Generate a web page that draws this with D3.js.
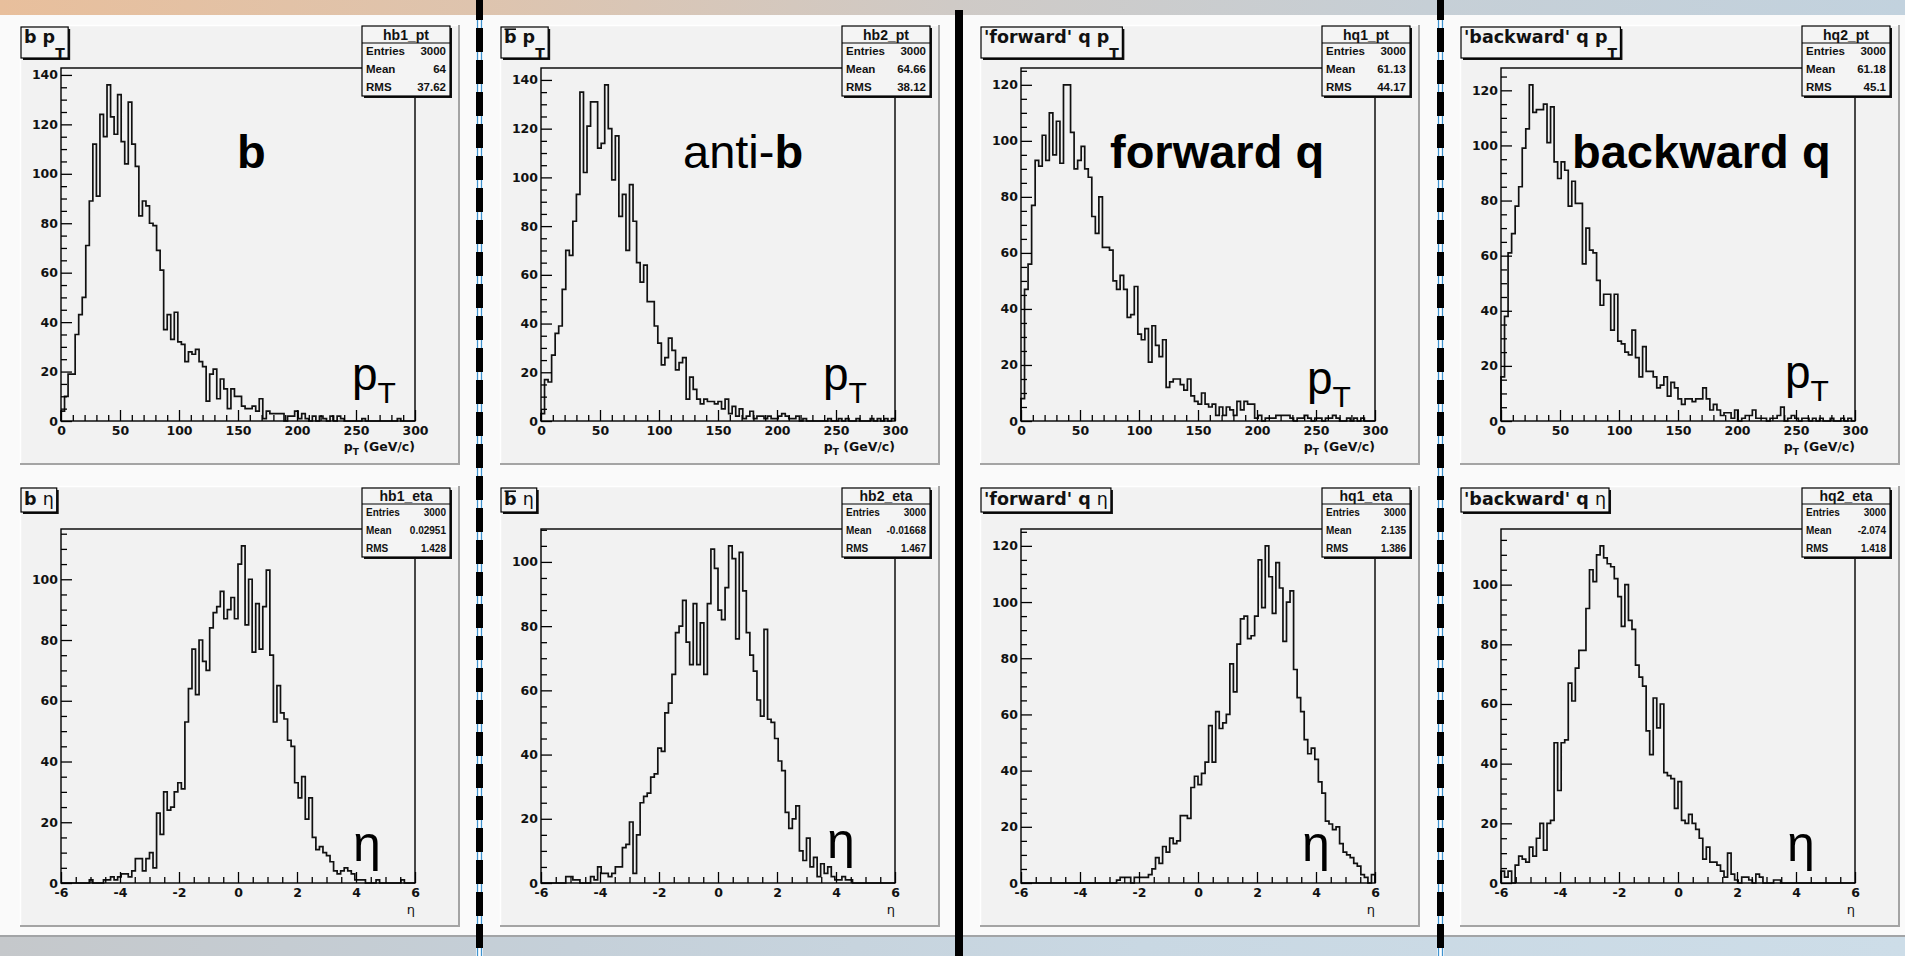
<!DOCTYPE html>
<html>
<head>
<meta charset="utf-8">
<title>b, anti-b, forward q, backward q: pT and eta</title>
<script src="https://cdn.jsdelivr.net/npm/d3@7/dist/d3.min.js"></script>
<style>
  html, body { margin: 0; padding: 0; background: #fafafa; }
  svg { display: block; }
</style>
</head>
<body>
<svg id="canvas" width="1905" height="956"></svg>
<script>
// ---------------- histogram contents (100 bins each) ----------------
const nBins = 100;
const ptRange = [0, 300];
const etaRange = [-6, 6];

const hb1_pt = [
  4, 10, 19, 19, 35, 43, 50, 71, 89, 112,
  91, 124, 115, 136, 123, 116, 132, 113, 104, 129,
  112, 103, 83, 89, 87, 80, 79, 69, 61, 37,
  43, 33, 44, 32, 31, 24, 28, 27, 29, 24,
  22, 8, 19, 21, 9, 17, 13, 5, 13, 10,
  10, 6, 5, 5, 6, 4, 9, 1, 4, 3,
  3, 3, 3, 0, 2, 2, 4, 1, 3, 1,
  0, 2, 0, 2, 1, 0, 2, 0, 2, 1,
  0, 0, 0, 0, 0, 1, 0, 0, 0, 0,
  0, 0, 0, 0, 0, 1, 0, 0, 0, 0
];
const hb2_pt = [
  3, 17, 16, 27, 36, 39, 54, 70, 68, 82,
  93, 135, 102, 121, 131, 131, 112, 114, 138, 120,
  99, 117, 84, 93, 70, 97, 82, 65, 57, 64,
  49, 49, 39, 32, 23, 26, 34, 29, 21, 24,
  26, 9, 18, 13, 9, 7, 9, 8, 8, 7,
  8, 5, 9, 3, 6, 2, 5, 1, 2, 4,
  1, 2, 2, 1, 2, 1, 1, 2, 3, 2,
  1, 1, 2, 0, 1, 0, 0, 0, 0, 0,
  0, 1, 0, 0, 1, 0, 1, 0, 0, 1,
  0, 0, 0, 1, 0, 1, 0, 1, 0, 1
];
const hq1_pt = [
  8, 47, 56, 77, 93, 91, 102, 93, 110, 95,
  107, 92, 120, 120, 103, 90, 93, 98, 90, 87,
  73, 67, 80, 62, 62, 61, 50, 47, 52, 47,
  37, 38, 48, 31, 29, 33, 21, 34, 27, 23,
  29, 12, 14, 15, 15, 13, 11, 15, 9, 7,
  6, 10, 6, 5, 6, 2, 5, 2, 5, 4,
  2, 7, 4, 7, 6, 6, 1, 2, 0, 1,
  1, 1, 2, 2, 2, 2, 1, 0, 1, 1,
  2, 1, 0, 1, 1, 0, 1, 1, 2, 1,
  0, 0, 1, 0, 1, 0, 1, 0, 0, 0
];
const hq2_pt = [
  16, 38, 61, 68, 78, 85, 99, 106, 122, 112,
  113, 113, 115, 101, 114, 94, 88, 94, 91, 78,
  87, 79, 79, 57, 70, 62, 61, 51, 42, 46,
  46, 33, 46, 29, 28, 25, 24, 33, 23, 16,
  27, 18, 18, 16, 12, 13, 16, 9, 14, 12,
  8, 6, 8, 8, 7, 8, 8, 12, 8, 4,
  6, 4, 2, 3, 3, 1, 4, 0, 1, 2,
  2, 4, 1, 1, 1, 0, 1, 1, 2, 5,
  0, 1, 2, 1, 0, 1, 1, 0, 1, 0,
  1, 0, 0, 1, 0, 0, 1, 0, 1, 0
];
const hb1_eta = [
  0, 0, 0, 0, 0, 0, 0, 0, 1, 0,
  0, 0, 1, 1, 2, 1, 2, 3, 3, 2,
  4, 8, 8, 4, 8, 10, 5, 23, 16, 30,
  24, 25, 30, 33, 31, 53, 64, 77, 62, 80,
  73, 70, 84, 89, 91, 96, 87, 90, 94, 87,
  105, 111, 85, 100, 76, 92, 77, 91, 103, 75,
  53, 65, 56, 54, 47, 45, 33, 28, 35, 21,
  28, 15, 11, 12, 10, 9, 7, 4, 3, 4,
  5, 4, 3, 1, 1, 1, 0, 0, 0, 1,
  0, 0, 0, 0, 0, 0, 1, 0, 0, 0
];
const hb2_eta = [
  0, 0, 0, 0, 0, 0, 0, 2, 2, 1,
  1, 0, 0, 0, 2, 1, 5, 3, 3, 2,
  3, 5, 5, 11, 12, 19, 3, 15, 25, 27,
  28, 33, 34, 42, 41, 53, 56, 65, 78, 80,
  88, 75, 68, 87, 68, 81, 65, 87, 104, 98,
  85, 82, 92, 105, 101, 76, 103, 91, 78, 71,
  66, 57, 52, 79, 51, 50, 45, 38, 35, 22,
  17, 20, 24, 10, 7, 14, 5, 8, 2, 6,
  3, 5, 2, 1, 1, 2, 1, 1, 0, 0,
  0, 0, 0, 0, 0, 0, 0, 0, 0, 0
];
const hq1_eta = [
  0, 0, 0, 0, 0, 0, 0, 0, 0, 0,
  0, 0, 0, 0, 0, 0, 0, 0, 0, 0,
  0, 0, 0, 0, 0, 0, 0, 1, 2, 2,
  2, 0, 2, 2, 2, 2, 3, 5, 9, 7,
  13, 11, 16, 14, 15, 24, 24, 23, 34, 38,
  35, 39, 43, 56, 43, 61, 55, 57, 60, 78,
  68, 85, 94, 95, 87, 88, 95, 115, 98, 120,
  109, 96, 114, 105, 86, 100, 104, 76, 66, 61,
  51, 46, 48, 44, 36, 32, 22, 21, 19, 20,
  14, 11, 10, 9, 7, 6, 3, 2, 0, 3
];
const hq2_eta = [
  4, 2, 4, 0, 6, 9, 8, 7, 12, 9,
  15, 20, 11, 20, 21, 47, 31, 47, 48, 67,
  61, 72, 78, 78, 92, 105, 101, 110, 113, 109,
  107, 106, 102, 96, 86, 100, 88, 85, 73, 69,
  66, 51, 43, 62, 52, 60, 37, 36, 35, 25,
  34, 21, 20, 23, 20, 18, 15, 8, 12, 7,
  7, 6, 4, 2, 10, 3, 1, 0, 2, 2,
  1, 0, 3, 2, 0, 0, 0, 1, 1, 0,
  0, 0, 0, 0, 0, 0, 0, 0, 0, 0,
  0, 0, 0, 0, 0, 0, 0, 0, 0, 0
];

// ---------------- statistics boxes ----------------
const histNames = ["hb1_pt", "hb2_pt", "hq1_pt", "hq2_pt", "hb1_eta", "hb2_eta", "hq1_eta", "hq2_eta"];
const entries = ["3000", "3000", "3000", "3000", "3000", "3000", "3000", "3000"];
const means = ["64", "64.66", "61.13", "61.18", "0.02951", "-0.01668", "2.135", "-2.074"];
const rmsValues = ["37.62", "38.12", "44.17", "45.1", "1.428", "1.467", "1.386", "1.418"];
const statLabels = ["Entries", "Mean", "RMS"];

// ---------------- axis ticks ----------------
const ptTicks = [0, 50, 100, 150, 200, 250, 300];
const etaTicks = [-6, -4, -2, 0, 2, 4, 6];
const ptMinorStep = 10;
const etaMinorStep = 0.5;
const countStep = 20;
const countMinorStep = 5;

// ---------------- titles and labels ----------------
const titles = [
  [{ t: "b p" }, { t: "T", sub: true }],
  [{ t: "b", over: true }, { t: " p" }, { t: "T", sub: true }],
  [{ t: "'forward' q p" }, { t: "T", sub: true }],
  [{ t: "'backward' q p" }, { t: "T", sub: true }],
  [{ t: "b " }, { t: "\u03B7", greek: true }],
  [{ t: "b", over: true }, { t: " " }, { t: "\u03B7", greek: true }],
  [{ t: "'forward' q " }, { t: "\u03B7", greek: true }],
  [{ t: "'backward' q " }, { t: "\u03B7", greek: true }]
];
const bigLabels = [
  [{ t: "b", bold: true }],
  [{ t: "anti-" }, { t: "b", bold: true }],
  [{ t: "forward q", bold: true }],
  [{ t: "backward q", bold: true }]
];

// ---------------- layout ----------------
const COL_W = 480;
const rowLayout = [
  { pad: [25, 465], frame: [68, 421], titleY: 27, titleH: 31, titleBase: 43,
    stats: { y: 26, h: 70, head: 17, hb: 39.5, rows: [55, 73, 91], fs: 11.5 },
    axisTitleY: 451 },
  { pad: [486, 927], frame: [529, 883], titleY: 488, titleH: 24, titleBase: 505,
    stats: { y: 488, h: 69, head: 16, hb: 500.5, rows: [516, 534, 552], fs: 10 },
    axisTitleY: 914 }
];
const bigLabelPos = [[237, 168], [683, 168], [1110, 168], [1572, 168]];
const ptMarkPos = [[352, 390], [823, 390], [1307, 394], [1785, 388]];
const etaMarkPos = [[353, 861], [827, 858], [1302, 861], [1787, 861]];

const panels = [
  { data: hb1_pt, kind: "pt", col: 0, row: 0 },
  { data: hb2_pt, kind: "pt", col: 1, row: 0 },
  { data: hq1_pt, kind: "pt", col: 2, row: 0 },
  { data: hq2_pt, kind: "pt", col: 3, row: 0 },
  { data: hb1_eta, kind: "eta", col: 0, row: 1 },
  { data: hb2_eta, kind: "eta", col: 1, row: 1 },
  { data: hq1_eta, kind: "eta", col: 2, row: 1 },
  { data: hq2_eta, kind: "eta", col: 3, row: 1 }
];

const AXIS_FONT = "'DejaVu Sans', 'Liberation Sans', sans-serif";
const STAT_FONT = "'Liberation Sans', Arial, sans-serif";
const BIG_FONT = "'Liberation Sans', Arial, sans-serif";

const svg = d3.select("#canvas");
const defs = svg.append("defs");

// ---------------- slide background ----------------
function hGradient(id, stops) {
  const gr = defs.append("linearGradient").attr("id", id)
    .attr("x1", 0).attr("x2", 1).attr("y1", 0).attr("y2", 0);
  stops.forEach(([o, c]) => gr.append("stop").attr("offset", o).attr("stop-color", c));
}
hGradient("topBand", [[0, "#e8bf9c"], [0.25, "#dec4ae"], [0.5, "#cfcac6"], [0.75, "#c6cfd6"], [1, "#c2d2de"]]);
hGradient("bottomBand", [[0, "#c5c8cb"], [0.3, "#c5d0d9"], [0.6, "#c9d8e3"], [1, "#cddde8"]]);

svg.append("rect").attr("x", 0).attr("y", 0).attr("width", 1905).attr("height", 956).attr("fill", "#fafafa");
svg.append("rect").attr("x", 0).attr("y", 0).attr("width", 1905).attr("height", 15).attr("fill", "url(#topBand)");
svg.append("rect").attr("x", 0).attr("y", 935).attr("width", 1905).attr("height", 21).attr("fill", "url(#bottomBand)");
svg.append("line").attr("x1", 0).attr("x2", 1905).attr("y1", 936).attr("y2", 936)
  .attr("stroke", "#a2a4a6").attr("stroke-width", 2);

// ---------------- one histogram pad ----------------
function drawPanel(p, idx) {
  const L = rowLayout[p.row];
  const ox = p.col * COL_W;
  const g = svg.append("g");

  // pad with bevelled border
  const px0 = 20 + ox, px1 = 460 + ox;
  g.append("rect").attr("x", px0).attr("y", L.pad[0])
    .attr("width", px1 - px0).attr("height", L.pad[1] - L.pad[0]).attr("fill", "#f2f2f2");
  g.append("path").attr("d", `M${px0 + 0.5},${L.pad[1]}V${L.pad[0] + 0.5}H${px1}`)
    .attr("fill", "none").attr("stroke", "#ffffff").attr("stroke-width", 1.5);
  g.append("path").attr("d", `M${px1 - 1},${L.pad[0]}V${L.pad[1] - 1}H${px0}`)
    .attr("fill", "none").attr("stroke", "#a4a4a4").attr("stroke-width", 2);

  // scales
  const fx0 = 61 + ox, fx1 = 415 + ox, fy0 = L.frame[0], fy1 = L.frame[1];
  const range = p.kind === "pt" ? ptRange : etaRange;
  const xMajor = p.kind === "pt" ? ptTicks : etaTicks;
  const xMinorStep = p.kind === "pt" ? ptMinorStep : etaMinorStep;
  const x = d3.scaleLinear().domain(range).range([fx0, fx1]);
  const ymax = 1.05 * d3.max(p.data);
  const y = d3.scaleLinear().domain([0, ymax]).range([fy1, fy0]);

  const isMajor = (v, majors) => majors.some(m => Math.abs(m - v) < 1e-6);
  const xMinor = d3.range(range[0], range[1] + 1e-9, xMinorStep).filter(v => !isMajor(v, xMajor));
  const yMajor = d3.range(0, ymax, countStep);
  const yMinor = d3.range(0, ymax, countMinorStep).filter(v => !isMajor(v, yMajor));

  // histogram outline (step line)
  const w = (range[1] - range[0]) / nBins;
  const pts = [[range[0], 0]]
    .concat(p.data.map((v, i) => [range[0] + i * w, v]))
    .concat([[range[1], p.data[nBins - 1]], [range[1], 0]]);
  const line = d3.line().x(d => x(d[0])).y(d => y(d[1])).curve(d3.curveStepAfter);
  g.append("path").attr("d", line(pts)).attr("fill", "none")
    .attr("stroke", "#111").attr("stroke-width", 1.7).attr("stroke-linejoin", "miter");

  // axes: ticks drawn inside the frame
  function styleAxis(sel) {
    sel.select(".domain").remove();
    sel.selectAll(".tick line").attr("stroke", "#000").attr("stroke-width", 1.3);
    sel.attr("font-family", AXIS_FONT).attr("font-size", 12.5).attr("font-weight", "bold");
    sel.selectAll(".tick text").attr("fill", "#111");
  }
  const fmt = d => String(d);
  g.append("g").attr("transform", `translate(${fx0},0)`)
    .call(d3.axisLeft(y).tickValues(yMinor).tickSize(-6).tickFormat("")).call(styleAxis);
  g.append("g").attr("transform", `translate(${fx0},0)`)
    .call(d3.axisLeft(y).tickValues(yMajor).tickSize(-11).tickPadding(3).tickFormat(fmt)).call(styleAxis);
  g.append("g").attr("transform", `translate(0,${fy1})`)
    .call(d3.axisBottom(x).tickValues(xMinor).tickSize(-6).tickFormat("")).call(styleAxis);
  g.append("g").attr("transform", `translate(0,${fy1})`)
    .call(d3.axisBottom(x).tickValues(xMajor).tickSize(-11).tickPadding(5).tickFormat(fmt)).call(styleAxis);

  // frame
  g.append("rect").attr("x", fx0).attr("y", fy0).attr("width", fx1 - fx0).attr("height", fy1 - fy0)
    .attr("fill", "none").attr("stroke", "#000").attr("stroke-width", 1.4);

  // axis title
  const at = g.append("text").attr("x", fx1).attr("y", L.axisTitleY).attr("text-anchor", "end")
    .attr("font-family", AXIS_FONT).attr("fill", "#111");
  if (p.kind === "pt") {
    at.attr("font-size", 12.5).attr("font-weight", "bold");
    at.append("tspan").text("p");
    at.append("tspan").attr("font-size", 9).attr("dy", 4).text("T");
    at.append("tspan").attr("dy", -4).text(" (GeV/c)");
  } else {
    at.attr("font-size", 13).text("\u03B7");
  }

  // statistics box
  const S = L.stats;
  const sx = 362 + ox, sw = 88;
  g.append("rect").attr("x", sx + 2).attr("y", S.y + 2).attr("width", sw).attr("height", S.h).attr("fill", "#111");
  g.append("rect").attr("x", sx).attr("y", S.y).attr("width", sw).attr("height", S.h)
    .attr("fill", "#f4f4f4").attr("stroke", "#000").attr("stroke-width", 1.2);
  g.append("line").attr("x1", sx).attr("x2", sx + sw).attr("y1", S.y + S.head).attr("y2", S.y + S.head)
    .attr("stroke", "#000").attr("stroke-width", 1.2);
  g.append("text").attr("x", sx + sw / 2).attr("y", S.hb).attr("text-anchor", "middle")
    .attr("font-family", STAT_FONT).attr("font-weight", "bold").attr("font-size", 14)
    .attr("fill", "#111").text(histNames[idx]);
  const vals = [entries[idx], means[idx], rmsValues[idx]];
  statLabels.forEach((lab, k) => {
    g.append("text").attr("x", sx + 4).attr("y", S.rows[k])
      .attr("font-family", STAT_FONT).attr("font-weight", "bold").attr("font-size", S.fs)
      .attr("fill", "#111").text(lab);
    g.append("text").attr("x", sx + sw - 4).attr("y", S.rows[k]).attr("text-anchor", "end")
      .attr("font-family", STAT_FONT).attr("font-weight", "bold").attr("font-size", S.fs)
      .attr("fill", "#111").text(vals[k]);
  });

  // title box
  const tx = 21 + ox;
  const tt = g.append("text").attr("x", tx + 3).attr("y", L.titleBase)
    .attr("font-family", AXIS_FONT).attr("font-size", 17.5).attr("font-weight", "bold").attr("fill", "#111");
  const overIdx = [];
  let charPos = 0;
  titles[idx].forEach(seg => {
    const ts = tt.append("tspan").text(seg.t);
    if (seg.sub) ts.attr("font-size", 14).attr("dy", 15);
    if (seg.greek) ts.attr("font-weight", "normal");
    if (seg.over) overIdx.push(charPos);
    charPos += seg.t.length;
  });
  const bb = tt.node().getBBox();
  const tw = bb.x + bb.width + 3 - tx;
  g.insert("rect", () => tt.node()).attr("x", tx + 2).attr("y", L.titleY + 2)
    .attr("width", tw).attr("height", L.titleH).attr("fill", "#111");
  g.insert("rect", () => tt.node()).attr("x", tx).attr("y", L.titleY)
    .attr("width", tw).attr("height", L.titleH)
    .attr("fill", "#f4f4f4").attr("stroke", "#000").attr("stroke-width", 1.2);
  overIdx.forEach(ci => {
    const ext = tt.node().getExtentOfChar(ci);
    const oy = L.titleBase - 13.8;
    g.append("line").attr("x1", ext.x + 0.5).attr("x2", ext.x + ext.width - 0.5)
      .attr("y1", oy).attr("y2", oy).attr("stroke", "#111").attr("stroke-width", 1.6);
  });

  // large annotations
  if (p.row === 0) {
    const [bx, by] = bigLabelPos[p.col];
    const bt = g.append("text").attr("x", bx).attr("y", by)
      .attr("font-family", BIG_FONT).attr("font-size", 47).attr("fill", "#000");
    bigLabels[p.col].forEach(seg => {
      bt.append("tspan").attr("font-weight", seg.bold ? "bold" : "normal").text(seg.t);
    });
    const [mx, my] = ptMarkPos[p.col];
    const mt = g.append("text").attr("x", mx).attr("y", my)
      .attr("font-family", BIG_FONT).attr("font-size", 46).attr("fill", "#000");
    mt.append("tspan").text("p");
    mt.append("tspan").attr("font-size", 30).attr("dy", 13).text("T");
  } else {
    const [mx, my] = etaMarkPos[p.col];
    g.append("text").attr("x", mx).attr("y", my)
      .attr("font-family", BIG_FONT).attr("font-size", 50).attr("fill", "#000").text("\u03B7");
  }
}

panels.forEach((p, i) => drawPanel(p, i));

// ---------------- column separators ----------------
const dashedSeps = [476, 1437];
dashedSeps.forEach(sx => {
  const sg = svg.append("g");
  sg.append("rect").attr("x", sx).attr("y", 0).attr("width", 7).attr("height", 956).attr("fill", "#ffffff");
  [sx + 1.5, sx + 5.5].forEach(lx => sg.append("line").attr("x1", lx).attr("x2", lx)
    .attr("y1", 0).attr("y2", 956).attr("stroke", "#3f93cf").attr("stroke-width", 1.3));
  sg.append("line").attr("x1", sx + 3.5).attr("x2", sx + 3.5).attr("y1", 0).attr("y2", 956)
    .attr("stroke", "#000").attr("stroke-width", 7).attr("stroke-dasharray", "24 8")
    .attr("stroke-dashoffset", 4);
});
svg.append("rect").attr("x", 955).attr("y", 10).attr("width", 8).attr("height", 946).attr("fill", "#000");
</script>
</body>
</html>
